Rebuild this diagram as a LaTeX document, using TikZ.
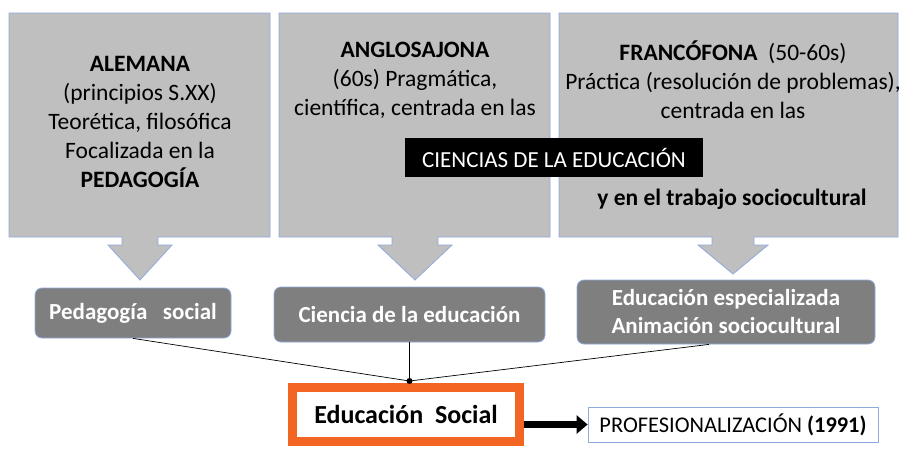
\documentclass[tikz,border=0pt]{standalone}
\usepackage{fontspec}
\setmainfont{Carlito}
\usetikzlibrary{positioning, arrows.meta}

\definecolor{calloutgray}{HTML}{BFBFBF}
\definecolor{boxgray}{HTML}{7F7F7F}
\definecolor{edgeblue}{HTML}{8FAADC}
\definecolor{edgeorange}{HTML}{F26522}

\begin{document}
\begin{tikzpicture}[x=1pt, y=-1pt,
  callout/.style={fill=calloutgray, draw=edgeblue, line width=0.8pt},
  calltext/.style={align=center, font=\fontsize{23.5}{29}\selectfont},
  darkbox/.style={fill=boxgray, draw=edgeblue, line width=0.8pt, rounded corners=7pt,
    text=white, align=center, font=\fontsize{23}{28}\selectfont\bfseries},
  link/.style={draw=black, line width=0.7pt}]
  \useasboundingbox (0,0) rectangle (899,450);

  % callouts: left/right/arrow x/shaft/head/tip
  \foreach \xa/\xb/\ax/\sh/\hh/\tp in {9/270/140/18/32/280, 279/550/415/23/37/280, 559/898/733/21/35/274}
    \draw[callout] (\xa,13) -- (\xb,13) -- (\xb,237) -- (\ax+\sh,237) -- (\ax+\sh,245)
      -- (\ax+\hh,245) -- (\ax,\tp) -- (\ax-\hh,245) -- (\ax-\sh,245) -- (\ax-\sh,237)
      -- (\xa,237) -- cycle;

  \node[calltext] (alem) at (140,122) {\textbf{ALEMANA}\\(principios S.XX)\\Teorética, filosófica\\
    Focalizada en la\\\textbf{PEDAGOGÍA}};
  \node[calltext] (angl) at (415,80) {\textbf{ANGLOSAJONA}\\(60s) Pragmática,\\científica, centrada en las};
  \node[calltext] (fran) at (733,80) {\textbf{FRANCÓFONA}\ \ (50-60s)\\Práctica (resolución de problemas),\\centrada en las};
  \node[calltext, font=\fontsize{23.5}{29}\selectfont\bfseries] (trab) at (732,199) {y en el trabajo sociocultural};
  \node[fill=black, text=white, font=\fontsize{23}{28}\selectfont, minimum width=298pt,
    minimum height=39pt, inner sep=0pt] (cien) at (554,157.5) {CIENCIAS DE LA EDUCACIÓN};

  % second row
  \node[darkbox, minimum width=196pt, minimum height=50pt] (peds) at (133,313) {Pedagogía\ \ \ social};
  \node[darkbox, minimum width=271pt, minimum height=55pt] (ciedu) at (409.5,314.5) {Ciencia de la educación};
  \node[darkbox, minimum width=298pt, minimum height=64pt, inner sep=2pt] (espec) at (726,312)
    {Educación especializada\\Animación sociocultural};

  % bottom
  \node[draw=edgeorange, line width=9pt, fill=white, minimum width=227pt, minimum height=54pt,
    font=\fontsize{26}{30}\selectfont\bfseries] (edsoc) at (406,414.5) {Educación\ \ Social};
  \node[draw=edgeblue, line width=0.8pt, fill=white, minimum width=290pt, minimum height=35pt,
    font=\fontsize{22.4}{26}\selectfont] (prof) at (733,424.5) {PROFESIONALIZACIÓN \textbf{(1991)}};

  \coordinate (junc) at (409.5,381);
  \draw[link] (peds.south) -- (junc);
  \draw[link] (ciedu.south) -- (junc);
  \draw[link] ([xshift=-17pt]espec.south) -- (junc);
  \fill (junc) circle (3pt);
  \draw[line width=7pt, -{Triangle[length=11pt, width=18pt]}]
    (edsoc.east |- prof.west) -- (prof.west);
\end{tikzpicture}
\end{document}
